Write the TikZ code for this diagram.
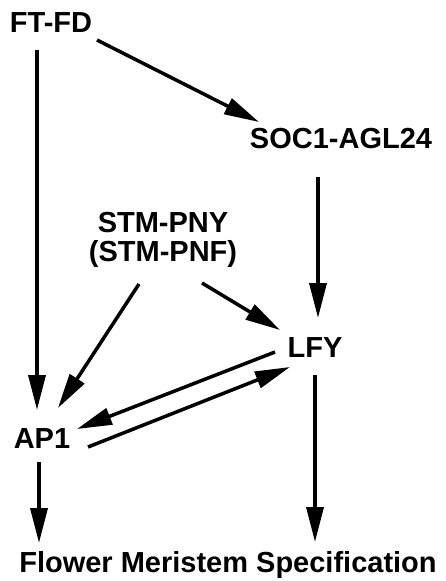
\documentclass[tikz,border=0pt]{standalone}
\usepackage{fontspec}
\setmainfont{Liberation Sans}
\usetikzlibrary{arrows.meta}
\tikzset{
  gene/.style={anchor=base, inner sep=0pt, font=\fontsize{29}{29}\selectfont\bfseries},
  link/.style={line width=3.5pt, -{Triangle[length=35pt,width=17pt]}},
}
\begin{document}
\begin{tikzpicture}[x=1pt,y=-1pt]
  \useasboundingbox (0,0) rectangle (445,581);

  % gene labels
  \node[gene] (ftfd) at (51,32)  {FT-FD};
  \node[gene] (soc)  at (341,148) {SOC1-AGL24};
  \node[gene, anchor=center, align=center] (stm) at (163,240) {STM-PNY\\(STM-PNF)};
  \node[gene] (lfy)  at (315,357) {LFY};
  \node[gene] (ap1)  at (42,448)  {AP1};
  \node[gene] (fms)  at (228,572) {Flower Meristem Specification};

  % regulatory links
  \draw[link] ([shift={(-14,18)}]ftfd.base) -- ([shift={(-5,-38)}]ap1.base);
  \draw[link] ([shift={(46,8)}]ftfd.base)   -- ([shift={(-82,-26)}]soc.base);
  \draw[link] ([shift={(-23,29)}]soc.base)  -- ([shift={(3,-39)}]lfy.base);
  \draw[link] ([shift={(-24,44)}]stm.center) -- ([shift={(16,-40)}]ap1.base);
  \draw[link] ([shift={(39,43)}]stm.center)  -- ([shift={(-35,-27)}]lfy.base);
  \draw[link] ([shift={(-40,-5)}]lfy.base)  -- ([shift={(35,-19)}]ap1.base);
  \draw[link] ([shift={(46,-1)}]ap1.base)   -- ([shift={(-25,10)}]lfy.base);
  \draw[link] ([shift={(-3,14)}]ap1.base)   -- ([shift={(-3,-29)}]ap1.base |- fms.base);
  \draw[link] ([shift={(0,18)}]lfy.base)    -- ([shift={(0,-30)}]lfy.base |- fms.base);
\end{tikzpicture}
\end{document}
